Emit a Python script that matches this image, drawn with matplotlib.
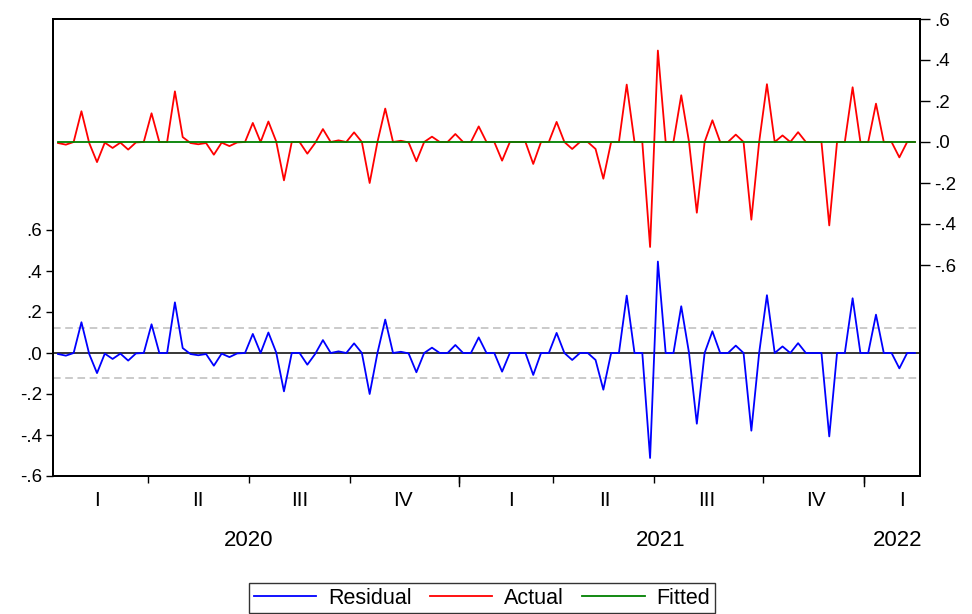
import matplotlib
matplotlib.use("Agg")
import matplotlib.pyplot as plt
from matplotlib.lines import Line2D
import matplotlib.transforms as mtransforms

plt.rcParams['font.family'] = ['Liberation Sans', 'DejaVu Sans']

# Weekly observations (index 0..110), early 2020 to early 2022
actual = [
    -0.005, -0.013, 0.000, 0.150, -0.005, -0.098, -0.003, -0.029, -0.003, -0.037,
    -0.002, 0.000, 0.140, 0.000, 0.000, 0.247, 0.024, -0.005, -0.011, -0.005,
    -0.062, -0.003, -0.020, -0.002, 0.000, 0.093, 0.000, 0.100, 0.003, -0.187,
    0.000, 0.000, -0.057, -0.005, 0.063, 0.000, 0.008, 0.000, 0.047, 0.000,
    -0.200, 0.000, 0.163, 0.000, 0.006, -0.002, -0.094, 0.000, 0.026, 0.000,
    0.000, 0.039, 0.000, 0.000, 0.076, 0.000, 0.000, -0.091, 0.000, 0.000,
    0.000, -0.107, 0.000, 0.000, 0.098, 0.000, -0.034, 0.000, 0.000, -0.034,
    -0.179, 0.000, 0.000, 0.280, 0.000, 0.000, -0.512, 0.446, 0.000, 0.000,
    0.228, 0.000, -0.345, 0.000, 0.106, 0.000, 0.000, 0.036, 0.000, -0.379,
    0.000, 0.282, 0.000, 0.032, 0.000, 0.048, 0.000, 0.000, 0.000, -0.407,
    0.000, 0.000, 0.267, 0.000, 0.000, 0.187, 0.000, 0.000, -0.075, 0.000,
    0.000,
]
fitted = [0.0] * len(actual)
residual = [a - f for a, f in zip(actual, fitted)]
obs = list(range(len(actual)))

se_band = 0.12  # +/- 1 S.E. of regression

# period boundaries (in observation units) and labels
quarter_bounds = [11.5, 24.5, 37.5, 51.5, 63.5, 76.5, 90.5, 103.5]
year_bounds = [51.5, 103.5]
quarter_labels = ["I", "II", "III", "IV", "I", "II", "III", "IV", "I"]
quarter_centers = [5.0, 18.0, 31.0, 44.3, 58.2, 70.2, 83.3, 97.3, 108.3]
year_labels = ["2020", "2021", "2022"]
year_centers = [24.5, 77.3, 107.8]

left_ticks = [-0.6, -0.4, -0.2, 0.0, 0.2, 0.4, 0.6]
right_ticks = [-0.6, -0.4, -0.2, 0.0, 0.2, 0.4, 0.6]

def fmt(v):
    s = "%.1f" % v
    if s.startswith("0"):
        s = s[1:]
    elif s.startswith("-0"):
        s = "-" + s[2:]
    return s

fig = plt.figure(figsize=(9.72, 6.14), dpi=100)
ax = fig.add_axes([53/972, 1-476/614, (920-53)/972, (476-19)/614])
ax2 = ax.twinx()

xmin, xmax = -0.65, 110.65
ax.set_xlim(xmin, xmax)
ax2.set_xlim(xmin, xmax)
ax.set_ylim(-0.6, -0.6 + 457/205)
ax2.set_ylim(0.6 - 457/205, 0.6)

# lower panel: residual
ax.axhline(se_band, color="#bcbcbc", lw=1.1, ls=(0, (5, 3)), zorder=1)
ax.axhline(-se_band, color="#bcbcbc", lw=1.1, ls=(0, (5, 3)), zorder=1)
ax.axhline(0.0, color="black", lw=1.1, zorder=2)
ax.plot(obs, residual, color="#0000ff", lw=1.3, zorder=3)

# upper panel: actual & fitted (right axis)
ax2.plot(obs, actual, color="#ff0000", lw=1.3, zorder=3)
ax2.plot(obs, fitted, color="#008000", lw=1.3, zorder=4)

ax.set_yticks(left_ticks)
ax.set_yticklabels([fmt(v) for v in left_ticks])
ax2.set_yticks(right_ticks)
ax2.set_yticklabels([fmt(v) for v in right_ticks])
ax.tick_params(axis="y", direction="out", length=5, width=1, labelsize=13.5, pad=3)
ax2.tick_params(axis="y", direction="out", length=7, width=1, labelsize=13.5, pad=3)

ax.set_xticks(quarter_bounds)
ax.set_xticklabels([])
ax.tick_params(axis="x", direction="out", length=5, width=1)
ax2.tick_params(axis="x", bottom=False, top=False)
trans = mtransforms.blended_transform_factory(ax.transData, ax.transAxes)
for yb in year_bounds:
    ax.plot([yb, yb], [0, -0.022], transform=trans, color="black", lw=1, clip_on=False)

for a in (ax, ax2):
    for sp in a.spines.values():
        sp.set_linewidth(1.4)
        sp.set_color("black")

for lab, xc in zip(quarter_labels, quarter_centers):
    ax.text(xc, -0.053, lab, transform=trans, ha="center", va="center", fontsize=15)
for lab, xc in zip(year_labels, year_centers):
    ax.text(xc, -0.142, lab, transform=trans, ha="center", va="center", fontsize=16)

handles = [Line2D([], [], color="#0000ff", lw=1.3),
           Line2D([], [], color="#ff0000", lw=1.3),
           Line2D([], [], color="#008000", lw=1.3)]
leg = fig.legend(handles, ["Residual", "Actual", "Fitted"], loc="center",
                 bbox_to_anchor=(482/972, 1-598/614), ncol=3, frameon=True,
                 fancybox=False, edgecolor="black", fontsize=15.5,
                 handlelength=2.9, handletextpad=0.55, columnspacing=0.85,
                 borderpad=0.2, borderaxespad=0)
leg.get_frame().set_linewidth(1.0)

fig.savefig("out.png", dpi=100)
